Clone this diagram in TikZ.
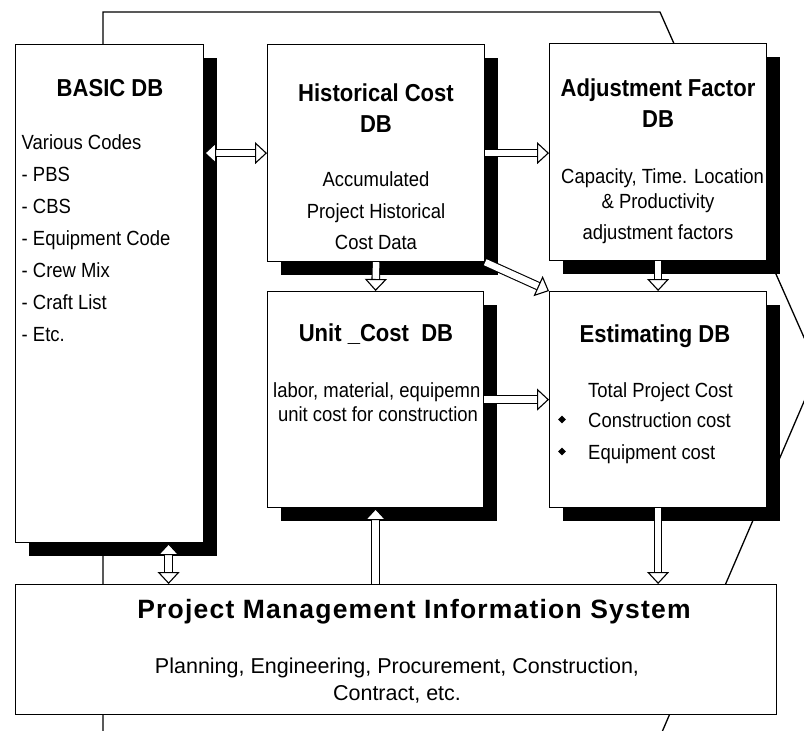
\documentclass[tikz,border=0pt]{standalone}
\usepackage{fontspec}
\setmainfont{Liberation Sans}
\newfontfamily\narrowfont[FakeStretch=0.9]{Liberation Sans}
\newfontfamily\pmisttlfont[LetterSpace=4.5]{Liberation Sans}
\usetikzlibrary{arrows.meta,shadows,shapes.geometric,calc}
\newcommand{\ttlfnt}{\narrowfont\fontsize{24.5}{30}\selectfont\bfseries}
\newcommand{\bodyfnt}{\narrowfont\fontsize{20.5}{24}\selectfont}
\newcommand{\pmisfnt}{\pmisttlfont\fontsize{26.5}{30}\selectfont\bfseries}
\newcommand{\pmisbody}{\fontsize{21.5}{26}\selectfont}
\begin{document}
\begin{tikzpicture}[x=1pt,y=-1pt,
  dbbox/.style={draw, fill=white, line width=1.2pt, inner sep=0pt, anchor=north west,
    drop shadow={shadow xshift=13pt, shadow yshift=-13pt, opacity=1, fill=black}},
  plainbox/.style={draw, fill=white, line width=1.2pt, inner sep=0pt, anchor=north west},
  ttl/.style={font=\ttlfnt, inner sep=0pt, anchor=base},
  txt/.style={font=\bodyfnt, inner sep=0pt, anchor=base},
  txtl/.style={font=\bodyfnt, inner sep=0pt, anchor=base west},
  bul/.style={diamond, fill=black, inner sep=0pt, minimum size=8pt},
  hexline/.style={line width=1.3pt},
  tipw/.tip={Triangle[width=22pt,length=12pt,fill=white,line width=1.1pt]},
  blk/.style={double=white, double distance=6.5pt, line width=1.1pt, -tipw},
  blk2/.style={double=white, double distance=6.5pt, line width=1.1pt, tipw-tipw},
]
\useasboundingbox (0,0) rectangle (804,731);
\clip (0,0) rectangle (804,731);

% background outline
\draw[hexline] (103,760) -- (103,12) -- (660,12) -- (818,369) -- (650,760);

% boxes
\node[dbbox, minimum width=188pt, minimum height=498pt] (basic) at (15,44) {};
\node[dbbox, minimum width=217pt, minimum height=217pt] (hist) at (267,44) {};
\node[dbbox, minimum width=217pt, minimum height=217pt] (adj) at (549,43) {};
\node[dbbox, minimum width=216pt, minimum height=216pt] (unit) at (267,291) {};
\node[dbbox, minimum width=217pt, minimum height=216pt] (est) at (549,291) {};
\node[plainbox, minimum width=761pt, minimum height=130pt] (pmis) at (15,584) {};

% BASIC DB
\node[ttl] (basicT) at (110,96) {BASIC DB};
\node[txtl] (b1) at (21.5,149.5) {Various Codes};
\node[txtl] (b2) at (21.5,181.5) {- PBS};
\node[txtl] (b3) at (21.5,213.5) {- CBS};
\node[txtl] (b4) at (21.5,245.5) {- Equipment Code};
\node[txtl] (b5) at (21.5,277.5) {- Crew Mix};
\node[txtl] (b6) at (21.5,309.5) {- Craft List};
\node[txtl] (b7) at (21.5,341.5) {- Etc.};

% Historical
\node[ttl] (histT1) at (376,101) {Historical Cost};
\node[ttl] (histT2) at (376,132) {DB};
\node[txt] (h1) at (376,186.5) {Accumulated};
\node[txt] (h2) at (376,218.5) {Project Historical};
\node[txt] (h3) at (376,249.5) {Cost Data};

% Adjustment
\node[ttl] (adjT1) at (658,96) {Adjustment Factor};
\node[ttl] (adjT2) at (658,127) {DB};
\begin{scope}
\clip ([xshift=0.7pt,yshift=-0.7pt]adj.north west) rectangle ([xshift=-0.7pt,yshift=0.7pt]adj.south east);
\node[txtl] (a1) at (561,183) {Capacity, Time. Location};
\end{scope}
\node[txt] (a2) at (658,208) {\& Productivity};
\node[txt] (a3) at (658,239) {adjustment factors};

% Unit cost
\node[ttl] (unitT) at (376,341) {Unit \_Cost~~DB};
\begin{scope}
\clip ([xshift=0.7pt,yshift=-0.7pt]unit.north west) rectangle ([xshift=-0.7pt,yshift=0.7pt]unit.south east);
\node[txtl] (u1) at (273,397) {labor, material, equipemn};
\end{scope}
\node[txt] (u2) at (378,421) {unit cost for construction};

% Estimating
\node[ttl] (estT) at (655,342) {Estimating DB};
\node[txtl] (e1) at (588,397) {Total Project Cost};
\node[txtl] (e2) at (588,427) {Construction cost};
\node[txtl] (e3) at (588,459) {Equipment cost};
\node[bul] (d1) at (562,419.5) {};
\node[bul] (d2) at (562,451.5) {};

% PMIS
\node[font=\pmisfnt, inner sep=0pt, anchor=base] (pmisT) at (414,618) {Project Management Information System};
\node[font=\pmisbody, inner sep=0pt, anchor=base] (p1) at (397,673) {Planning, Engineering, Procurement, Construction,};
\node[font=\pmisbody, inner sep=0pt, anchor=base] (p2) at (397,700) {Contract, etc.};

% arrows
\draw[blk2] (basic.east |- hist.west) -- (hist.west);
\draw[blk] (hist.east) -- (adj.west |- hist.east);
\draw[blk] (hist.south) -- (unit.north);
\draw[blk] (hist.south east) -- (est.north west);
\draw[blk] (adj.south) -- (est.north);
\draw[blk] (unit.east) -- (est.west);
\draw[blk] (est.south) -- (est.south |- pmis.north);
\draw[blk] (unit.south |- pmis.north) -- (unit.south);
\draw[blk2] ([xshift=59pt]basic.south) -- ([xshift=59pt]basic.south |- pmis.north);
\end{tikzpicture}
\end{document}
